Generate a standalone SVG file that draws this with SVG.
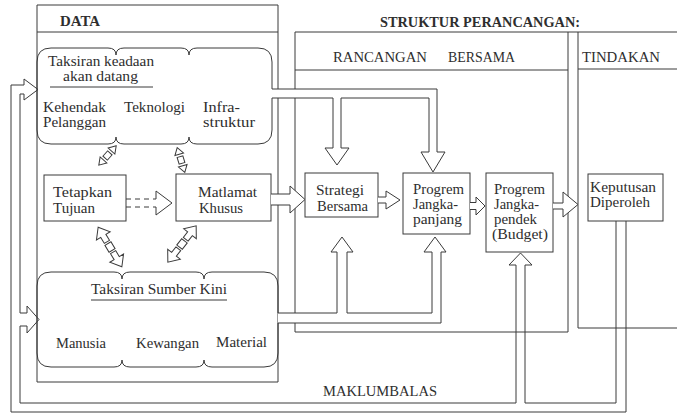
<svg xmlns="http://www.w3.org/2000/svg" width="677" height="417" viewBox="0 0 677 417">
<style>
.ln{fill:none;stroke:#3a3a3a;stroke-width:1}
.pf{fill:#fff;stroke:#3a3a3a;stroke-width:1}
.bx{fill:#fff;stroke:#3a3a3a;stroke-width:1}
.t{font-size:15px;fill:#2e2e2e}
.s{font-size:14px;fill:#2e2e2e}
.h{font-size:14px;fill:#2e2e2e}
.b{font-weight:bold}
</style>
<defs>
<g id="dsm">
<polygon class="pf" points="-13,0 -6,-4.5 -6,4.5"/>
<rect class="pf" x="-3.5" y="-3" width="7" height="6"/>
<polygon class="pf" points="13,0 6,-4.5 6,4.5"/>
</g>
<g id="dlg">
<polygon class="pf" points="6,-3 13,-3 13,-8 23,0 13,8 13,3 6,3"/>
<polygon class="pf" points="-6,-3 -13,-3 -13,-8 -23,0 -13,8 -13,3 -6,3"/>
<rect class="pf" x="-4" y="-3.5" width="8" height="7"/>
</g>
</defs>
<rect width="677" height="417" fill="#fff"/>
<g font-family="'Liberation Serif','Times New Roman',serif">

<g id="panel-data">
<path class="ln" d="M37,5 H278 V382 H37 Z M37,32 H278"/>
<text class="h b" x="60" y="26" textLength="40" lengthAdjust="spacingAndGlyphs">DATA</text>
</g>
<text class="h b" x="380" y="27" textLength="200" lengthAdjust="spacingAndGlyphs">STRUKTUR PERANCANGAN:</text>
<g id="panel-rancangan">
<path class="ln" d="M295,32 H568 V332 H295 Z M295,70 H568"/>
<text class="h" x="333" y="62" textLength="94" lengthAdjust="spacingAndGlyphs">RANCANGAN</text>
<text class="h" x="448" y="62" textLength="67" lengthAdjust="spacingAndGlyphs">BERSAMA</text>
</g>
<g id="panel-tindakan">
<path class="ln" d="M568,32 H677 M677,328 H578 V32 M578,69 H677"/>
<text class="h" x="582" y="62" textLength="78" lengthAdjust="spacingAndGlyphs">TINDAKAN</text>
</g>

<g id="node-future">
<path class="ln" d="M272,98 V130 Q272,144 258,144 H197 Q189,144 189,137 Q189,144 181,144 H124 Q116,144 116,137 Q116,144 108,144 H51 Q37,144 37,130 V62 Q37,48 51,48 H108 Q116,48 116,55 Q116,48 124,48 H181 Q189,48 189,55 Q189,48 197,48 H258 Q272,48 272,62 V89"/>
<text class="t" x="48" y="66" textLength="106" lengthAdjust="spacingAndGlyphs">Taksiran keadaan</text>
<text class="t" x="63" y="81" textLength="75" lengthAdjust="spacingAndGlyphs">akan datang</text>
<line class="ln" x1="50" y1="87" x2="153" y2="87"/>
<text class="s" x="43" y="112" textLength="63" lengthAdjust="spacingAndGlyphs">Kehendak</text>
<text class="s" x="43" y="127" textLength="63" lengthAdjust="spacingAndGlyphs">Pelanggan</text>
<text class="t" x="124" y="112" textLength="61" lengthAdjust="spacingAndGlyphs">Teknologi</text>
<text class="s" x="203" y="112" textLength="37" lengthAdjust="spacingAndGlyphs">Infra-</text>
<text class="s" x="203" y="127" textLength="52" lengthAdjust="spacingAndGlyphs">struktur</text>
</g>

<g id="node-sumber">
<path class="ln" d="M278,323 V353 Q278,367 264,367 H212 Q204,367 204,360 Q204,367 196,367 H130 Q122,367 122,360 Q122,367 114,367 H51 Q37,367 37,353 V286 Q37,272 51,272 H114 Q122,272 122,279 Q122,272 130,272 H196 Q204,272 204,279 Q204,272 212,272 H264 Q278,272 278,286 V313"/>
<text class="t" x="91" y="294" textLength="136" lengthAdjust="spacingAndGlyphs">Taksiran Sumber Kini</text>
<line class="ln" x1="91" y1="300" x2="227" y2="300"/>
<text class="t" x="56" y="348" textLength="50" lengthAdjust="spacingAndGlyphs">Manusia</text>
<text class="t" x="136" y="348" textLength="63" lengthAdjust="spacingAndGlyphs">Kewangan</text>
<text class="t" x="216" y="347" textLength="51" lengthAdjust="spacingAndGlyphs">Material</text>
</g>

<g id="node-tetapkan">
<rect class="bx" x="44" y="175" width="82" height="46"/>
<text class="t" x="53" y="197" textLength="59" lengthAdjust="spacingAndGlyphs">Tetapkan</text>
<text class="t" x="53" y="213" textLength="42" lengthAdjust="spacingAndGlyphs">Tujuan</text>
</g>
<g id="node-matlamat">
<rect class="bx" x="176" y="174" width="95" height="47"/>
<text class="t" x="198" y="197" textLength="59" lengthAdjust="spacingAndGlyphs">Matlamat</text>
<text class="t" x="199" y="213" textLength="44" lengthAdjust="spacingAndGlyphs">Khusus</text>
</g>
<g id="node-strategi">
<rect class="bx" x="305" y="173" width="73" height="44"/>
<text class="t" x="316" y="195" textLength="48" lengthAdjust="spacingAndGlyphs">Strategi</text>
<text class="t" x="317" y="211" textLength="51" lengthAdjust="spacingAndGlyphs">Bersama</text>
</g>
<g id="node-panjang">
<rect class="bx" x="403" y="173" width="67" height="61"/>
<text class="t" x="413" y="194" textLength="51" lengthAdjust="spacingAndGlyphs">Progrem</text>
<text class="t" x="413" y="209" textLength="45" lengthAdjust="spacingAndGlyphs">Jangka-</text>
<text class="t" x="413" y="224" textLength="49" lengthAdjust="spacingAndGlyphs">panjang</text>
</g>
<g id="node-pendek">
<rect class="bx" x="486" y="173" width="67" height="79"/>
<text class="t" x="494" y="194" textLength="51" lengthAdjust="spacingAndGlyphs">Progrem</text>
<text class="t" x="494" y="209" textLength="45" lengthAdjust="spacingAndGlyphs">Jangka-</text>
<text class="t" x="494" y="224" textLength="43" lengthAdjust="spacingAndGlyphs">pendek</text>
<text class="t" x="492" y="239" textLength="56" lengthAdjust="spacingAndGlyphs">(Budget)</text>
</g>
<g id="node-keputusan">
<rect class="bx" x="588" y="174" width="75" height="47"/>
<text class="t" x="590" y="192" textLength="66" lengthAdjust="spacingAndGlyphs">Keputusan</text>
<text class="t" x="590" y="207" textLength="60" lengthAdjust="spacingAndGlyphs">Diperoleh</text>
</g>

<g id="connectors">
<path class="pf" d="M272,89 H437 V152 H445 L433,172 L421,152 H429 V98 H341 V148 H349 L337,165 L325,148 H333 V98 H272"/>
<path class="pf" d="M271,194 H290 V186 L305,199.5 L290,213 V205 H271"/>
<path class="pf" d="M278,313 H337 V252 H331 L342,237 L353,252 H347 V313 H432 V252 H424 L435,237 L446,252 H441 V323 H278"/>
<path class="pf" d="M378,197 H386 V191 L400,200 L386,209 V203 H378"/>
<path class="pf" d="M470,202.5 H476 V197 L485,206 L476,215 V209.5 H470"/>
<path class="pf" d="M553,203 H563 V192 L578,204.5 L563,217 V209 H553"/>
<path class="ln" d="M126,199 H156 M126,207 H156" stroke-dasharray="5,4"/>
<path class="ln" d="M156,199 V191 L172,203 L156,215 V207"/>
<use href="#dsm" transform="translate(107.5,155.5) rotate(-48)"/>
<use href="#dsm" transform="translate(181,160) rotate(73)"/>
<use href="#dlg" transform="translate(110,247) rotate(59)"/>
<use href="#dlg" transform="translate(182,244) rotate(128)"/>
<path class="ln" d="M626,221 V412 H11 V85 H24 V79 L38,89.5 L24,100 V94 H20 V313 H27 V306 L39,319.5 L27,333 V326 H20 V403 H516 V265 H509 L520.5,253 L532,265 H525 V403 H616 V221"/>
<text class="h" x="323" y="396" textLength="114" lengthAdjust="spacingAndGlyphs">MAKLUMBALAS</text>
</g>
</g>
</svg>
